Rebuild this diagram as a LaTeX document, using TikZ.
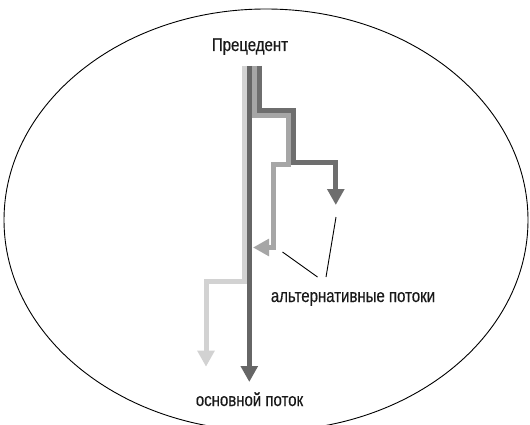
\documentclass[tikz,border=0pt]{standalone}
\usepackage{fontspec}
\setmainfont[FakeStretch=0.81,FakeBold=0.4]{Liberation Sans}
\usetikzlibrary{arrows.meta}
\definecolor{mainc}{HTML}{666666}
\definecolor{altdark}{HTML}{6E6E6E}
\definecolor{altmed}{HTML}{A6A6A6}
\definecolor{altlight}{HTML}{D2D2D2}
\tikzset{
  flow/.style={line width=5pt, line cap=butt, line join=miter, -{Triangle[width=16.5pt,length=16pt]}},
  leader/.style={draw=black, line width=0.9pt},
  lbl/.style={anchor=base, inner sep=0pt, font=\fontsize{18.5}{20}\selectfont, text=black!90}
}
\begin{document}
\begin{tikzpicture}[x=1pt,y=-1pt]
\useasboundingbox (0,0) rectangle (530,425);
\fill[white] (0,0) rectangle (530,425);
\begin{scope}
\clip (0,0) rectangle (530,425);
\draw[line width=0.9pt] (266,220) ellipse [x radius=262, y radius=211];
\end{scope}
% coordinates
\coordinate (ls) at (244.3,66);
\coordinate (l1) at (244.3,281);
\coordinate (l2) at (206,281);
\coordinate (le) at (206,366.7);
\coordinate (ms) at (249.3,66);
\coordinate (me) at (249.3,382);
\coordinate (ds) at (259.5,66);
\coordinate (d1) at (259.5,111);
\coordinate (d2) at (293,111);
\coordinate (d3) at (293,162);
\coordinate (d4) at (335.8,162);
\coordinate (de) at (335.8,205);
\coordinate (ns) at (254.5,66);
\coordinate (n1) at (254.5,116);
\coordinate (n2) at (288.5,116);
\coordinate (n3) at (288.5,164);
\coordinate (n4) at (273.5,164);
\coordinate (n5) at (273.5,247.5);
\coordinate (ne) at (253,247.5);
% flows
\draw[flow, altlight] (ls) -- (l1) -- (l2) -- (le);
\draw[flow, altmed] (ns) -- (n1) -- (n2) -- (n3) -- (n4) -- (n5) -- (ne);
\draw[flow, altdark] (ds) -- (d1) -- (d2) -- (d3) -- (d4) -- (de);
\draw[flow, mainc] (ms) -- (me);
% labels
\node[lbl] (prec) at (250,51) {Прецедент};
\node[lbl] (mainl) at (249.5,406) {основной поток};
\node[lbl] (altl) at (353,302) {альтернативные потоки};
% leaders
\coordinate (a1) at (282.5,252);
\coordinate (a2) at (317.5,277);
\coordinate (b1) at (336,217);
\coordinate (b2) at (326,277);
\draw[leader] (a1) -- (a2);
\draw[leader] (b1) -- (b2);
\end{tikzpicture}
\end{document}
